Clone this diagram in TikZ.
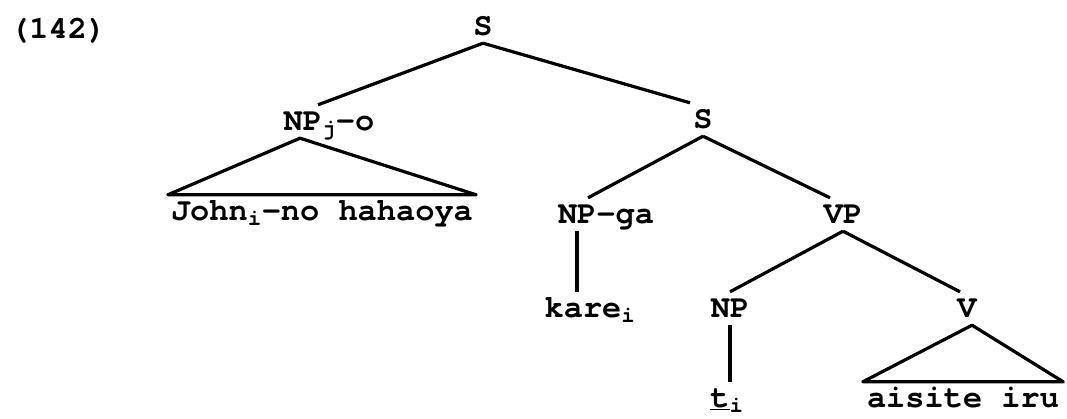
\documentclass[tikz,border=0pt]{standalone}
\usepackage{fontspec}
\setmainfont{TeX Gyre Cursor}
\tikzset{
	catstyle/.style={rectangle,inner xsep=0pt,inner ysep=8pt,text height=17pt,text depth=0pt,anchor=base},
	wordstyle/.style={rectangle,inner xsep=0pt,inner ysep=8pt,text height=17pt,text depth=0pt,anchor=base},
	branchstyle/.style={line width=3.2pt,line join=round}
}

\begin{document}
\begin{tikzpicture}[x=1pt,y=-1pt]
		\fontsize{32}{38}\selectfont\bfseries
		\useasboundingbox (0,0) rectangle (1067,418);
		\node[anchor=base west,inner sep=0pt] (ex) at (10,38) {(142)};
		\node[catstyle] (s1) at (483,35) {S};
		\node[catstyle] (npjo) at (329,130) {NP\textsubscript{j}-o};
		\node[catstyle] (s2) at (703,128) {S};
		\node[wordstyle,inner xsep=3pt] (john) at (322,220) {John\textsubscript{i}-no hahaoya};
		\node[catstyle] (npga) at (606,223) {NP-ga};
		\node[catstyle] (vp) at (843,223) {VP};
		\node[wordstyle] (kare) at (590,317) {kare\textsubscript{i}};
		\node[catstyle] (np) at (730,317) {NP};
		\node[catstyle] (v) at (967,317) {V};
		\node[wordstyle] (t) at (727,407) {\underline{t}\textsubscript{i}};
		\node[wordstyle,inner xsep=4pt] (aisite) at (963,407) {aisite iru};
		\draw[branchstyle] (s1.south)--([xshift=-11pt]npjo.north);
		\draw[branchstyle] (s1.south)--([xshift=-13pt]s2.north);
		\draw[branchstyle] (john.north west)--([xshift=-29pt]npjo.south)--(john.north east)--cycle;
		\draw[branchstyle] (s2.south)--([xshift=-18pt]npga.north);
		\draw[branchstyle] (s2.south)--([xshift=-13pt]vp.north);
		\draw[branchstyle] ([xshift=-29pt]npga.south)--([xshift=-13pt]kare.north);
		\draw[branchstyle] (vp.south)--(np.north);
		\draw[branchstyle] (vp.south)--([xshift=-7pt]v.north);
		\draw[branchstyle] (np.south)--(np.south |- t.north);
		\draw[branchstyle] (aisite.north west)--([xshift=5pt]v.south)--(aisite.north east)--cycle;
		\end{tikzpicture}
\end{document}
